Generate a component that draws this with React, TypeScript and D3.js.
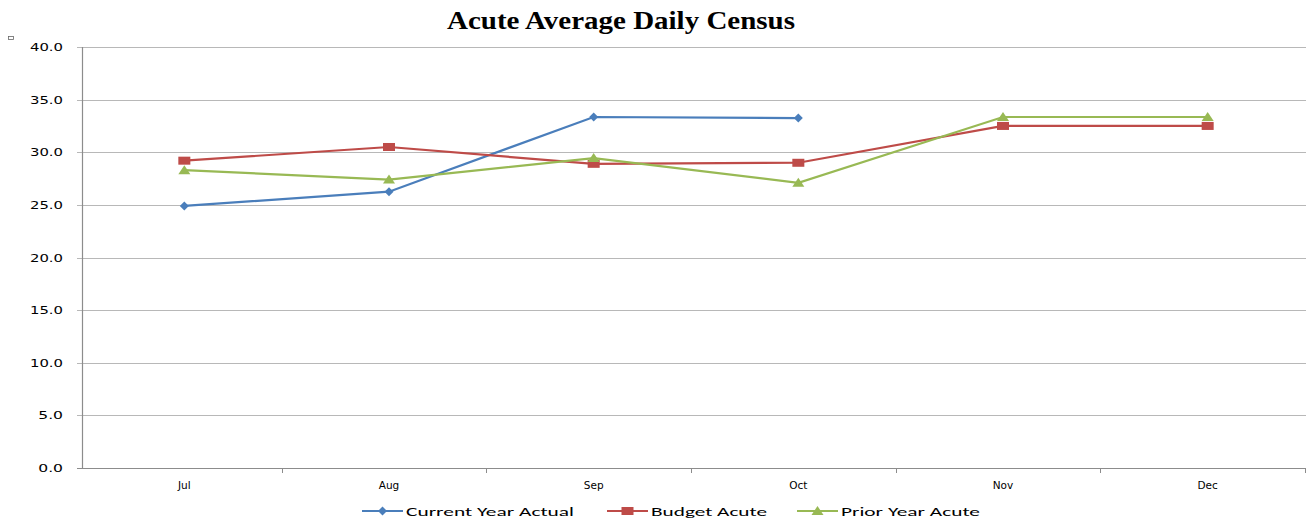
import React, { useEffect, useRef } from "react";
import * as d3 from "d3";

const months = ["Jul", "Aug", "Sep", "Oct", "Nov", "Dec"];
const currentYearActual: (number | null)[] = [24.9, 26.25, 33.35, 33.25, null, null];
const budgetAcute: (number | null)[] = [29.2, 30.5, 28.9, 29.0, 32.5, 32.5];
const priorYearAcute: (number | null)[] = [28.3, 27.4, 29.45, 27.1, 33.35, 33.35];
const yTicks = [0, 5, 10, 15, 20, 25, 30, 35, 40];

const seriesNames = ["Current Year Actual", "Budget Acute", "Prior Year Acute"];
const seriesColors = ["#4a7ebb", "#be4b48", "#98b954"];
const seriesMarkers = ["diamond", "square", "triangle"];

const W = 1312;
const H = 518;
const M = { left: 82, right: 1310, top: 47, bottom: 468 };

export default function App() {
  const ref = useRef<SVGSVGElement>(null);
  useEffect(() => {
    const svg = d3.select(ref.current);
    svg.selectAll("*").remove();
    const x = d3.scaleBand<string>().domain(months).range([M.left, M.right]);
    const y = d3.scaleLinear().domain([0, 40]).range([M.bottom, M.top]);

    // title
    svg.append("text").attr("x", 447).attr("y", 29)
      .attr("font-family", "Liberation Serif, Times New Roman, serif").attr("font-weight", "bold")
      .attr("font-size", 25).attr("fill", "#000")
      .attr("textLength", 348).attr("lengthAdjust", "spacingAndGlyphs")
      .text("Acute Average Daily Census");

    svg.append("rect").attr("x", 8.5).attr("y", 36.5).attr("width", 5).attr("height", 3)
      .attr("fill", "none").attr("stroke", "#666").attr("stroke-width", 0.8);

    // gridlines
    svg.append("g").selectAll("line").data(yTicks).join("line")
      .attr("x1", M.left - 5).attr("x2", M.right - 4)
      .attr("y1", (d) => Math.round(y(d)) + 0.5).attr("y2", (d) => Math.round(y(d)) + 0.5)
      .attr("stroke", (d) => (d === 0 ? "#8c8c8c" : "#b8b8b8")).attr("stroke-width", 1.2);

    // y axis line
    svg.append("line").attr("x1", M.left + 0.5).attr("x2", M.left + 0.5)
      .attr("y1", M.top).attr("y2", M.bottom).attr("stroke", "#8c8c8c").attr("stroke-width", 1.2);

    // y labels
    svg.append("g").selectAll("text").data(yTicks).join("text")
      .attr("x", 63).attr("y", (d) => y(d) + 4).attr("text-anchor", "end")
      .attr("font-family", "DejaVu Sans, Verdana, sans-serif").attr("font-size", 10.5)
      .attr("textLength", (d) => d.toFixed(1).length * 8.25).attr("lengthAdjust", "spacingAndGlyphs")
      .attr("fill", "#000").text((d) => d.toFixed(1));

    // x ticks at band boundaries
    const bounds = months.map((m) => x(m)!).concat([M.right]);
    svg.append("g").selectAll("line").data(bounds.slice(1)).join("line")
      .attr("x1", (d) => Math.round(d) - 4.5).attr("x2", (d) => Math.round(d) - 4.5)
      .attr("y1", M.bottom).attr("y2", M.bottom + 5).attr("stroke", "#8c8c8c");

    // x labels
    svg.append("g").selectAll("text").data(months).join("text")
      .attr("x", (d) => x(d)! + x.bandwidth() / 2).attr("y", 489).attr("text-anchor", "middle")
      .attr("font-family", "DejaVu Sans, Verdana, sans-serif").attr("font-size", 10.5)
      .attr("fill", "#000").text((d) => d);

    const marker = (g: any, type: string, cx: number, cy: number, color: string) => {
      if (type === "diamond") {
        g.append("path").attr("d", `M${cx},${cy - 4.5}L${cx + 4.5},${cy}L${cx},${cy + 4.5}L${cx - 4.5},${cy}Z`).attr("fill", color);
      } else if (type === "square") {
        g.append("rect").attr("x", cx - 6).attr("y", cy - 4).attr("width", 12).attr("height", 8).attr("fill", color);
      } else {
        g.append("path").attr("d", `M${cx},${cy - 5}L${cx + 6},${cy + 4}L${cx - 6},${cy + 4}Z`).attr("fill", color);
      }
    };

    const data = [currentYearActual, budgetAcute, priorYearAcute];
    data.forEach((vals, i) => {
      const g = svg.append("g");
      const line = d3.line<number | null>()
        .defined((d) => d !== null)
        .x((_, j) => x(months[j])! + x.bandwidth() / 2)
        .y((d) => y(d as number));
      g.append("path").datum(vals).attr("d", line).attr("fill", "none")
        .attr("stroke", seriesColors[i]).attr("stroke-width", 2.2);
      vals.forEach((v, j) => {
        if (v === null) return;
        marker(g, seriesMarkers[i], x(months[j])! + x.bandwidth() / 2, y(v), seriesColors[i]);
      });
    });

    // legend
    const legendX = [362, 607, 797];
    const legendLen = [168, 116, 139];
    seriesNames.forEach((name, i) => {
      const g = svg.append("g");
      const lx = legendX[i];
      g.append("line").attr("x1", lx).attr("x2", lx + 41).attr("y1", 511).attr("y2", 511)
        .attr("stroke", seriesColors[i]).attr("stroke-width", 2.2);
      marker(g, seriesMarkers[i], lx + 20.5, 511, seriesColors[i]);
      g.append("text").attr("x", lx + 44).attr("y", 515.5)
        .attr("font-family", "Carlito, Liberation Sans, Arial, sans-serif").attr("font-size", 13)
        .attr("textLength", legendLen[i]).attr("lengthAdjust", "spacingAndGlyphs")
        .attr("fill", "#000").text(name);
    });
  }, []);
  return <svg ref={ref} width={W} height={H} style={{ position: "absolute", left: 0, top: 0 }} />;
}
